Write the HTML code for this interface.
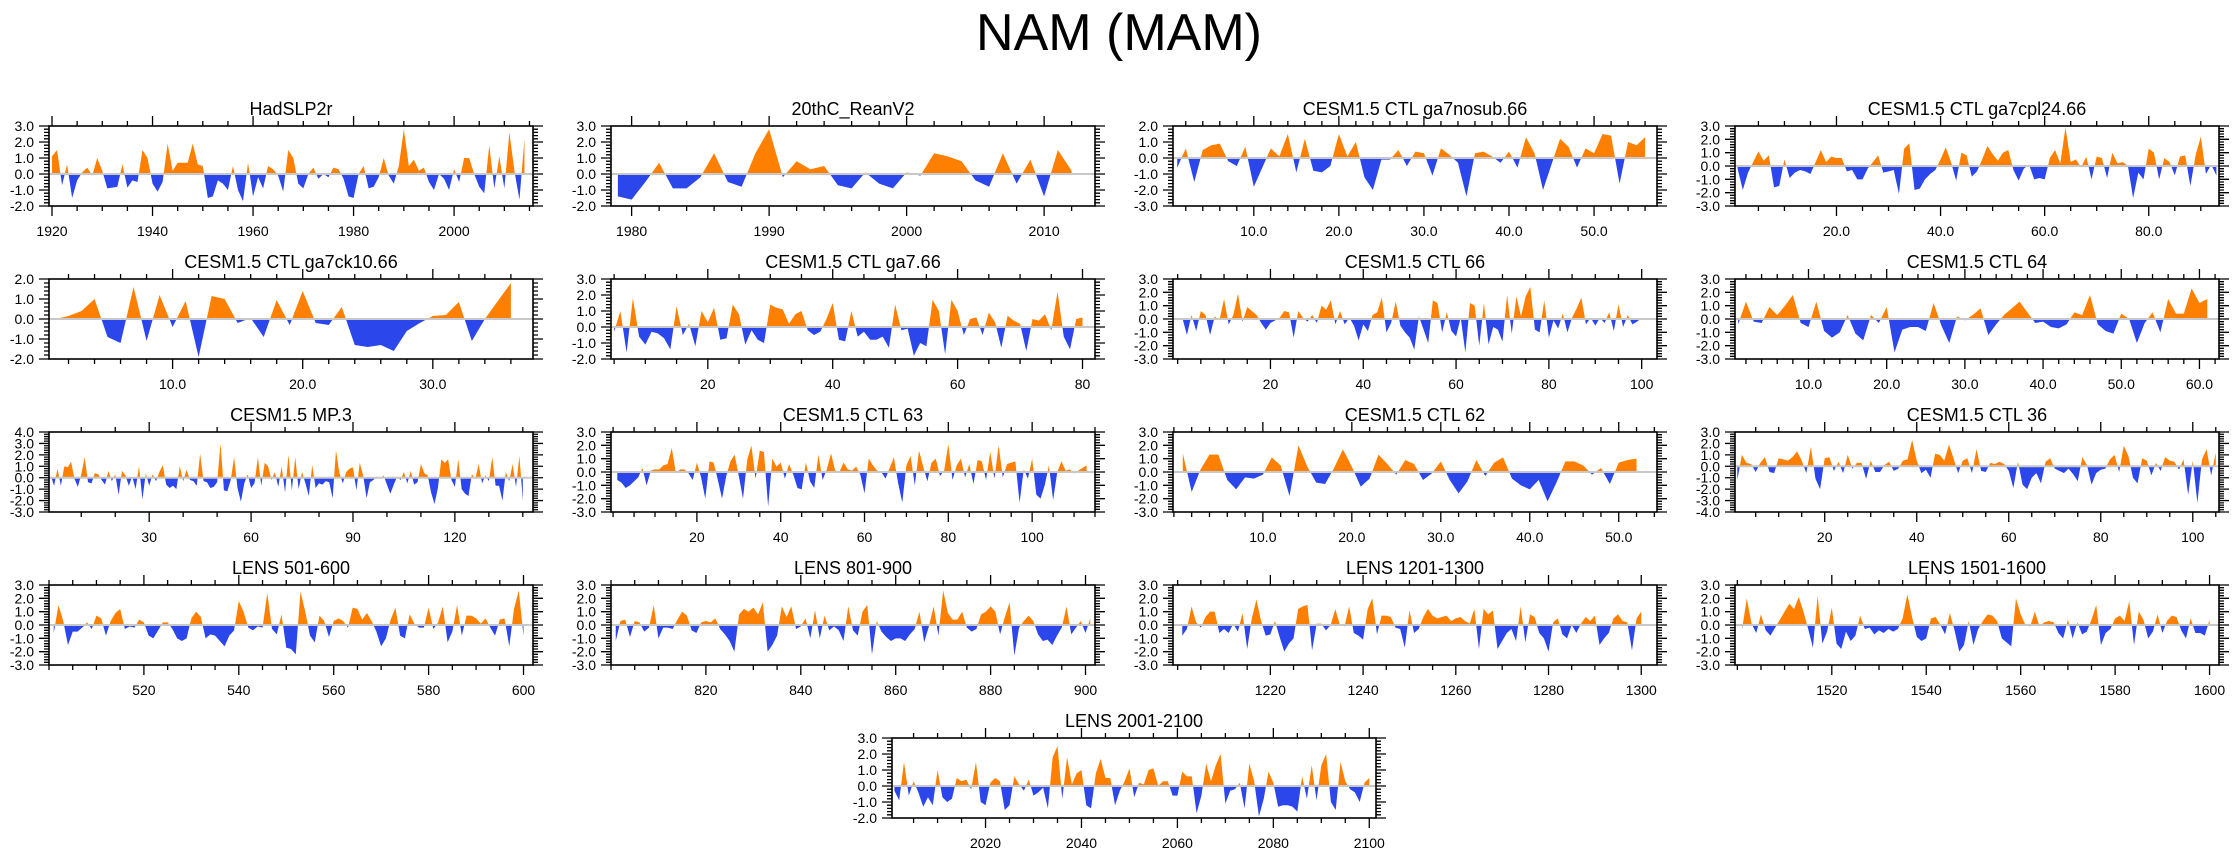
<!DOCTYPE html>
<html><head><meta charset="utf-8"><style>
html,body{margin:0;padding:0;background:#fff;}
svg{display:block;font-family:"Liberation Sans",Arial,sans-serif;}
</style></head><body>
<svg id="fig" width="2238" height="856" viewBox="0 0 2238 856">
<text x="1119" y="50" text-anchor="middle" font-size="52">NAM (MAM)</text>
</svg>
<script>
// ---- data arrays ----
const hadslp2r = [1.1,1.5,-0.7,0.6,-1.5,-0.4,0.1,0.4,-0.1,1.0,0.2,-0.9,-0.85,-0.8,0.6,-0.85,-0.4,-0.5,1.5,1.0,-0.6,-1.1,-0.5,1.9,0.2,0.7,0.7,0.7,1.9,0.6,0.5,-1.5,-1.4,-0.4,-0.6,-1.0,0.5,-1.0,-1.7,0.7,-1.4,-0.2,-0.9,0.5,0.3,-0.1,-1.1,1.5,1.0,-0.6,-0.9,0.0,0.4,-0.3,0.0,-0.2,0.4,0.3,-0.3,-1.4,-1.5,0.0,0.5,-0.9,-0.8,-0.2,1.0,-0.1,-0.6,0.5,2.8,0.5,0.9,0.2,0.4,-0.5,-1.0,0.0,-0.3,-1.0,0.3,-0.5,1.0,1.0,0.0,-0.8,-1.2,1.8,-0.9,1.1,-0.9,2.6,0.2,-1.6,2.2];
const reanV2 = [-1.4,-1.6,-0.5,0.7,-0.9,-0.9,-0.2,1.3,-0.5,-0.8,1.3,2.8,-0.2,0.8,0.3,0.5,-0.7,-0.9,0.1,-0.6,-0.9,0.1,-0.1,1.3,1.1,0.8,-0.4,-0.8,1.3,-0.6,0.9,-1.4,1.5,0.2];
const ga7nosub = [-0.6,0.6,-1.5,0.5,0.8,0.9,-0.2,-0.5,0.7,-1.8,-0.6,0.6,0.1,1.5,-0.9,1.2,-0.8,-0.9,-0.5,1.5,0.1,1.0,-1.2,-2.0,-0.1,-0.1,0.5,-0.5,0.4,0.3,-1.1,0.6,0.2,-0.3,-2.4,0.3,0.4,0.1,-0.3,0.4,-0.6,1.3,0.3,-2.0,-0.4,1.2,0.7,-0.6,0.6,0.3,1.5,1.4,-1.6,1.0,0.8,1.3];
const ga7cpl24 = [-0.2,-1.8,-0.5,0.3,1.1,0.4,0.8,-1.6,-1.5,0.5,-0.9,-0.5,-0.3,-0.4,-0.6,0.3,1.2,0.3,0.7,0.6,0.6,-0.4,-0.3,-1.0,-1.0,-0.2,0.3,0.8,-0.5,-0.4,-0.3,-2.1,1.3,1.7,-1.8,-1.7,-1.0,-0.6,-0.3,0.5,1.4,0.3,-1.1,1.0,0.8,-0.8,-0.4,0.5,1.5,0.9,0.4,1.0,1.2,-0.3,-1.1,-0.2,0.1,-1.0,-0.9,-1.0,0.6,1.2,0.2,2.9,0.3,0.5,-0.1,0.7,-1.0,0.7,0.6,-0.9,1.0,0.2,0.3,0.0,-2.4,-0.5,-1.0,1.3,1.0,-1.0,0.6,0.3,-0.7,0.7,0.8,-1.5,0.8,2.2,-0.6,0.1,-0.7];
const ga7ck10 = [0.0,0.15,0.4,1.0,-0.9,-1.2,1.6,-1.1,1.2,-0.4,0.9,-1.9,1.15,1.0,-0.2,0.05,-0.9,0.95,-0.3,1.4,-0.2,-0.3,0.6,-1.3,-1.4,-1.3,-1.6,-0.6,-0.2,0.15,0.2,0.85,-1.1,0.0,0.9,1.8];
const ga766 = [-0.3,1.0,-1.6,1.8,-0.6,-1.1,-0.3,-0.4,-0.7,-1.4,1.3,-0.5,0.2,-1.2,1.0,0.3,1.2,-0.8,-0.7,1.4,0.8,-1.1,-0.2,-0.8,-1.0,1.4,1.2,1.1,0.2,0.8,1.0,-0.2,-0.5,-0.3,0.5,1.5,-0.8,-0.9,1.0,-0.6,-0.3,-0.8,-0.8,-0.6,-1.3,1.4,-0.2,-0.1,-1.8,-1.0,-1.2,1.7,1.0,-1.7,1.7,1.0,-0.5,0.5,0.6,-0.5,0.9,0.3,-1.3,0.7,0.4,0.2,-1.5,0.5,0.4,0.8,-0.2,2.2,-0.6,-1.4,0.5,0.6];
const ctl66 = [0.1,-1.2,0.3,-0.9,0.6,0.3,-1.2,0.2,-0.1,1.5,-0.4,0.3,1.9,-0.2,0.9,0.6,0.3,-0.3,-0.8,-0.3,-0.1,0.1,0.6,0.5,-1.4,0.6,0.1,-0.2,0.3,-0.3,1.0,0.7,1.4,-0.4,0.6,-0.4,0.1,-0.5,-1.6,-0.4,-0.9,0.3,0.5,1.6,-1.0,-0.3,1.3,-0.5,-1.0,-1.4,-2.3,0.2,-0.8,-1.8,1.4,1.2,-1.0,0.5,-0.9,-1.3,0.1,-2.5,1.2,1.0,-2.0,1.2,-1.9,-0.6,-0.8,-1.7,1.8,-1.1,1.7,0.2,1.7,2.4,-0.8,-1.0,1.4,-1.4,-0.1,-0.7,0.4,-1.0,0.1,0.8,1.6,-0.4,0.1,-0.5,0.1,-0.3,0.5,-0.9,1.1,-0.6,0.3,-0.4,-0.2,0.1];
const ctl64 = [-0.4,1.3,-0.2,-0.3,0.9,0.3,1.0,1.8,-0.3,-0.6,1.3,-0.9,-1.4,-1.0,0.3,-1.1,-1.6,0.3,-0.3,0.9,-2.5,-0.8,-0.6,-0.6,-0.9,1.2,-0.5,-1.8,0.2,-0.1,0.3,0.8,-1.2,-0.4,0.3,0.8,1.3,0.5,-0.3,-0.2,-0.6,-0.7,-0.4,0.5,0.3,1.8,-0.4,-0.9,-1.1,0.4,0.0,-1.8,-0.3,0.5,-1.0,1.5,0.4,0.4,2.3,1.2,1.5];
const mp3 = [0.2,-0.7,0.8,-0.7,1.0,0.9,1.4,-0.1,-0.8,0.3,1.8,-0.4,-0.5,0.4,0.3,-0.2,-0.6,0.6,-0.3,0.3,-1.5,0.6,0.2,-0.7,0.1,-1.0,1.0,-1.9,0.4,-0.7,0.3,-0.3,0.5,1.1,-0.6,-0.9,-0.7,-1.0,1.0,-0.3,0.7,-0.2,-0.3,-0.7,2.1,-0.3,-0.4,-0.9,-0.8,-0.4,3.0,-1.1,-1.2,-0.2,1.8,-0.9,-2.1,-0.5,0.3,-0.9,-0.5,1.8,-0.7,1.3,1.0,-0.2,0.5,-0.8,1.0,-1.3,2.0,-1.1,1.8,-1.0,0.5,-0.5,-1.6,1.1,-0.9,-0.5,-0.6,-0.3,-0.4,-1.8,2.4,0.4,-0.5,0.5,0.8,0.9,-1.1,1.3,0.2,-1.8,-0.4,-0.2,0.1,-0.1,0.2,-0.6,-1.4,-0.6,0.1,-0.2,0.5,-0.5,0.6,-0.6,-0.4,1.2,0.4,0.2,-1.3,-2.3,-0.9,1.6,1.3,1.6,-0.2,-0.8,1.6,-1.0,-1.4,-1.6,0.3,-0.1,1.2,-0.5,0.2,-0.3,1.8,-0.7,-0.7,-2.0,0.5,-0.3,1.2,-0.8,1.9,-2.0];
const ctl63 = [-0.6,-0.8,-1.2,-1.0,-0.7,-0.4,0.3,-1.0,0.1,0.2,0.2,0.5,0.6,1.8,-0.1,0.2,0.2,-0.1,-0.6,0.7,-0.4,-2.0,0.8,0.7,-0.6,-2.0,-0.3,0.8,1.3,-0.3,-2.0,0.9,2.0,-0.5,1.6,1.5,-2.6,1.0,0.4,0.7,-0.5,0.6,-0.2,-1.2,-1.3,0.7,-0.7,-1.2,1.3,-0.6,0.2,1.4,0.1,0.0,0.7,0.2,0.1,0.4,-0.2,-1.6,1.0,0.5,0.1,0.0,-0.5,0.3,1.1,-0.8,-2.3,0.5,1.2,-1.0,1.6,0.4,-0.7,0.7,1.0,-0.3,0.1,2.1,-0.6,0.5,1.0,-0.4,0.6,-0.9,0.9,0.8,-0.6,1.5,-0.5,2.0,-0.4,0.6,0.7,0.8,-2.3,0.2,-0.5,1.0,-1.7,-2.0,-1.0,0.5,-2.1,0.0,0.8,0.1,0.2,-0.1,0.1,0.3,0.5];
const ctl62 = [1.4,-1.5,0.2,1.3,1.3,-0.6,-1.3,-0.4,-0.5,-0.2,1.1,0.5,-1.8,2.0,0.4,-0.8,-0.9,0.3,1.7,0.4,-1.1,-0.5,1.3,0.6,-0.2,0.9,0.6,-0.6,-0.1,0.8,-0.6,-1.6,-0.7,0.9,-0.3,0.7,1.1,-0.5,-1.0,-1.3,-0.6,-2.2,-0.8,0.8,0.8,0.5,-0.2,0.3,-0.9,0.7,0.9,1.0];
const ctl36 = [-1.2,1.0,0.3,0.2,-0.5,0.3,0.8,-0.5,-0.6,0.7,0.6,0.5,0.8,1.3,0.5,-0.6,1.7,-1.1,-2.0,0.7,0.8,-0.4,0.4,-0.6,1.0,-0.2,0.3,0.3,-1.1,0.5,-0.5,-0.5,0.1,0.4,-0.4,-0.2,0.5,0.6,2.3,0.5,-0.6,-0.3,-1.0,1.1,1.0,0.5,1.9,0.7,-0.6,0.5,0.7,-0.6,1.5,-0.4,-0.5,0.3,0.2,0.4,0.2,-0.4,-1.9,0.4,-1.6,-2.0,-1.0,-0.6,-1.5,0.4,0.7,-0.2,-0.4,-0.6,-0.2,-0.7,-1.3,0.8,0.1,-1.6,-0.6,-0.3,-0.2,0.6,1.0,-0.5,1.8,0.9,-1.0,-1.5,0.7,0.5,-0.8,0.3,-0.4,0.8,0.5,0.4,-0.3,0.6,-2.5,0.5,-3.2,0.6,1.5,-0.8,1.2];
const lens501 = [-0.6,1.5,0.3,-1.5,-0.5,-0.5,-0.2,0.2,-0.3,0.7,0.5,-0.8,0.3,0.9,1.2,-0.3,-0.1,-0.2,0.4,0.2,-0.8,-1.0,-0.4,0.2,0.2,-0.3,-1.0,-1.2,-1.0,0.5,1.0,0.6,-1.0,-0.7,-0.8,-1.2,-1.6,-0.8,-0.4,1.8,1.0,-0.2,-0.4,-0.1,-0.2,2.4,-0.3,-0.7,0.8,-1.7,-1.8,-2.2,2.5,1.0,-0.8,-1.3,0.7,0.3,-0.9,0.3,0.5,0.3,-0.2,1.3,1.2,0.4,0.9,0.3,-0.5,-1.6,-1.0,0.4,1.3,-0.8,-1.0,0.8,0.1,-0.2,-0.2,1.3,-0.3,0.2,1.4,-1.3,-0.5,1.5,-0.8,0.7,0.7,0.5,0.1,0.5,-0.2,-0.8,0.4,0.5,-1.6,1.2,2.6,-0.8];
const lens801 = [-1.2,0.3,0.4,-0.9,0.3,0.2,-0.5,-0.2,1.5,-1.0,-0.2,-0.2,-0.3,0.4,1.0,0.7,-0.4,-0.6,0.2,0.3,0.2,0.5,-0.3,-0.7,-1.2,-2.0,0.8,1.2,1.0,1.3,0.8,1.7,-2.0,-1.5,-0.8,1.4,0.6,1.4,-0.3,-0.1,0.5,-1.0,1.1,-1.0,0.7,-0.4,-0.1,-0.4,-1.2,1.4,-0.4,-0.8,1.0,1.5,-2.2,0.3,-0.5,-0.9,-1.2,-1.0,-1.0,-1.2,-0.7,-0.3,1.0,-1.3,-0.1,1.4,-0.8,2.6,0.9,0.4,0.4,1.0,-0.2,-0.5,-0.3,0.8,1.0,1.4,1.0,-0.7,0.6,1.7,-2.3,-0.2,0.3,0.7,0.3,-0.7,-1.2,-1.1,-1.5,-0.8,-0.2,1.4,-0.7,-0.2,0.3,-0.6,0.5];
const lens1201 = [-0.8,-0.3,1.4,0.2,-0.2,0.6,1.0,1.0,-0.6,-0.3,-0.6,0.1,-0.5,0.9,-1.8,0.5,1.9,0.3,-0.8,-0.7,0.3,-0.9,-2.0,-1.4,-1.0,1.2,1.4,1.5,-1.9,0.1,0.1,-0.4,0.0,1.2,0.0,-0.1,1.4,-0.6,-0.8,-1.1,1.2,2.0,-0.7,0.7,0.7,0.6,-0.2,-0.3,-1.7,1.1,-0.6,-0.3,0.6,1.2,0.7,0.5,0.6,0.7,0.3,0.5,0.6,0.3,0.1,1.2,-1.8,1.2,0.8,1.1,-1.8,-1.2,-0.6,-0.3,-1.2,1.4,-1.3,0.8,0.6,-0.6,-1.0,-2.0,0.2,0.5,-0.7,-1.0,0.0,-0.6,0.1,0.6,0.3,0.7,-1.5,-1.0,-0.6,0.5,0.8,0.3,0.2,-1.9,0.5,1.0];
const lens1501 = [-0.3,2.0,0.1,-0.6,0.8,-0.4,-0.8,-0.2,0.4,1.0,1.6,1.2,2.1,1.0,-0.3,-1.7,2.2,-1.4,-0.5,1.3,-1.4,-1.8,-0.5,-1.2,-0.8,0.7,-0.3,-0.2,-0.7,-0.4,-0.6,-0.3,-0.5,-0.3,0.5,2.3,0.6,-0.9,-1.2,-1.0,0.5,0.6,0.0,-0.7,0.9,-0.4,-2.0,-1.5,0.3,-1.5,-0.3,0.3,0.8,0.7,0.3,-1.0,-1.3,-1.6,2.0,0.8,0.0,-0.1,1.0,-0.1,0.2,0.3,0.2,-0.6,-1.0,0.4,-1.0,0.2,-0.7,-0.5,0.4,1.5,-1.5,-0.6,-0.3,0.5,0.7,0.3,1.8,-1.5,1.0,0.4,-1.0,-0.5,0.8,-0.6,0.3,0.7,0.6,-0.4,-1.0,0.5,-0.6,-0.6,-0.8,0.4];
const lens2001 = [-0.3,-0.9,1.5,-0.6,0.3,-0.4,-1.3,-0.7,-1.2,1.0,-0.7,-1.0,-0.8,0.5,0.3,0.4,-0.2,1.5,-1.0,-1.2,0.2,0.5,0.3,-1.5,-1.2,0.6,0.1,-0.3,0.4,-0.6,-0.4,-0.1,-1.4,1.8,2.5,-0.8,1.8,0.1,0.8,1.0,-1.2,-1.4,0.8,1.7,0.5,0.5,-1.2,-0.3,0.3,1.1,-0.7,0.2,0.1,1.0,1.1,0.0,0.3,0.3,-0.6,-0.6,0.9,0.6,0.6,-1.7,-0.6,1.4,0.3,1.3,2.0,-1.1,-0.3,-0.2,0.2,-1.4,1.4,0.3,-1.9,-0.8,0.9,0.2,-1.3,-1.2,-1.2,-1.3,-1.6,0.6,-0.8,1.3,-0.9,1.3,2.0,-1.0,-1.5,1.5,0.3,-0.2,-0.4,-1.0,0.2,0.5];

const panelTitles = ["HadSLP2r","20thC_ReanV2","CESM1.5 CTL ga7nosub.66","CESM1.5 CTL ga7cpl24.66","CESM1.5 CTL ga7ck10.66","CESM1.5 CTL ga7.66","CESM1.5 CTL 66","CESM1.5 CTL 64","CESM1.5 MP.3","CESM1.5 CTL 63","CESM1.5 CTL 62","CESM1.5 CTL 36","LENS 501-600","LENS 801-900","LENS 1201-1300","LENS 1501-1600","LENS 2001-2100"];
const panelSeries = [hadslp2r,reanV2,ga7nosub,ga7cpl24,ga7ck10,ga766,ctl66,ctl64,mp3,ctl63,ctl62,ctl36,lens501,lens801,lens1201,lens1501,lens2001];
const seriesStart = [1920,1979,1,1,1,5,1,1,1,1,1,1,501,801,1201,1501,2001];
const yMaxs = [3,3,2,3,2,3,3,3,4,3,3,3,3,3,3,3,3];
const yMins = [-2,-2,-3,-3,-2,-2,-3,-3,-3,-3,-3,-4,-3,-3,-3,-3,-2];
const xMins = [1919.4,1978.5,0.5,0.5,0.5,4.5,-1,0.6,0.5,-0.5,-0.1,0.5,500,800,1199,1499.5,2000.5];
const xMaxs = [2015.7,2013.7,57.4,93.5,37.7,82,103.3,62.5,143,115,54.3,105.7,602,902,1303.4,1602,2101.4];
const xMajorTicks = [[1920,1940,1960,1980,2000],[1980,1990,2000,2010],[10,20,30,40,50],[20,40,60,80],[10,20,30],[20,40,60,80],[20,40,60,80,100],[10,20,30,40,50,60],[30,60,90,120],[20,40,60,80,100],[10,20,30,40,50],[20,40,60,80,100],[520,540,560,580,600],[820,840,860,880,900],[1220,1240,1260,1280,1300],[1520,1540,1560,1580,1600],[2020,2040,2060,2080,2100]];
const xMinorSteps = [5,2,2,5,2,5,5,2,10,5,2,5,5,5,5,5,5];
const xLabelDecimals = [0,0,1,1,1,0,0,1,0,0,1,0,0,0,0,0,0];

// ---- layout ----
const colLeft=[49,611,1173,1735], rowTop=[126,279,432,585,738], PW=484, PH=80;
const NS="http://www.w3.org/2000/svg";
const svg=document.getElementById('fig');
function mk(tag,attrs,parent){const e=document.createElementNS(NS,tag);for(const k in attrs)e.setAttribute(k,attrs[k]);(parent||svg).appendChild(e);return e;}

panelSeries.forEach((vals,p)=>{
  const r=Math.floor(p/4), c=p%4;
  const L = p===16 ? 892 : colLeft[c], T=rowTop[r], R=L+PW, B=T+PH;
  const x0=xMins[p], x1=xMaxs[p], y0=yMins[p], y1=yMaxs[p];
  const sx=v=>L+(v-x0)/(x1-x0)*PW;
  const sy=v=>B-(v-y0)/(y1-y0)*PH;
  const g=mk('g',{});
  
  
  const t=mk('text',{x:(L+R)/2,y:T-11,'text-anchor':'middle','font-size':18},g);
  t.textContent=panelTitles[p];
  
  
  const zy=sy(0);
  const cu=mk('clipPath',{id:'cu'+p},g); mk('rect',{x:L,y:T,width:PW,height:zy-T},cu);
  const cd=mk('clipPath',{id:'cd'+p},g); mk('rect',{x:L,y:zy,width:PW,height:B-zy},cd);
  const pts=vals.map((v,i)=>[sx(seriesStart[p]+i),sy(v)]);
  let d='M'+pts[0][0].toFixed(2)+','+zy.toFixed(2);
  pts.forEach(q=>{d+='L'+q[0].toFixed(2)+','+q[1].toFixed(2);});
  d+='L'+pts[pts.length-1][0].toFixed(2)+','+zy.toFixed(2)+'Z';
  const up=mk('path',{d:d,fill:'#ff8000','clip-path':'url(#cu'+p+')'},g);
  
  
  const dn=mk('path',{d:d,fill:'#2b46ea','clip-path':'url(#cd'+p+')'},g);
  
  
  const zl=mk('line',{x1:L,x2:R,y1:zy,y2:zy,stroke:'#c8c8c8','stroke-width':2},g);
  
  
  let td='';
  for(let v=Math.ceil(x0/xMinorSteps[p])*xMinorSteps[p]; v<=x1; v+=xMinorSteps[p]){
    const X=sx(v); const major=xMajorTicks[p].includes(v); const len=major?10:5;
    td+=`M${X},${T}v${-len}M${X},${B}v${len}`;
  }
  for(let k=Math.round(y0*5); k<=Math.round(y1*5); k++){
    const Y=sy(k/5); const len=(k%5===0)?10:5;
    td+=`M${L},${Y}h${-len}M${R},${Y}h${len}`;
  }
  const tk=mk('path',{d:td,stroke:'#000','stroke-width':1.3,fill:'none'},g);
  
  
  const fr=mk('rect',{x:L,y:T,width:PW,height:PH,fill:'none',stroke:'#000','stroke-width':1.6},g);
  
  
  xMajorTicks[p].forEach(v=>{
    const lb=mk('text',{x:sx(v),y:B+30,'text-anchor':'middle','font-size':14},g);
    lb.textContent=v.toFixed(xLabelDecimals[p]);
    
    
  });
  for(let v=y0; v<=y1; v++){
    const lb=mk('text',{x:L-15,y:sy(v)+5,'text-anchor':'end','font-size':14},g);
    lb.textContent=v.toFixed(1);
    
    
  }
});
</script>
</body></html>
